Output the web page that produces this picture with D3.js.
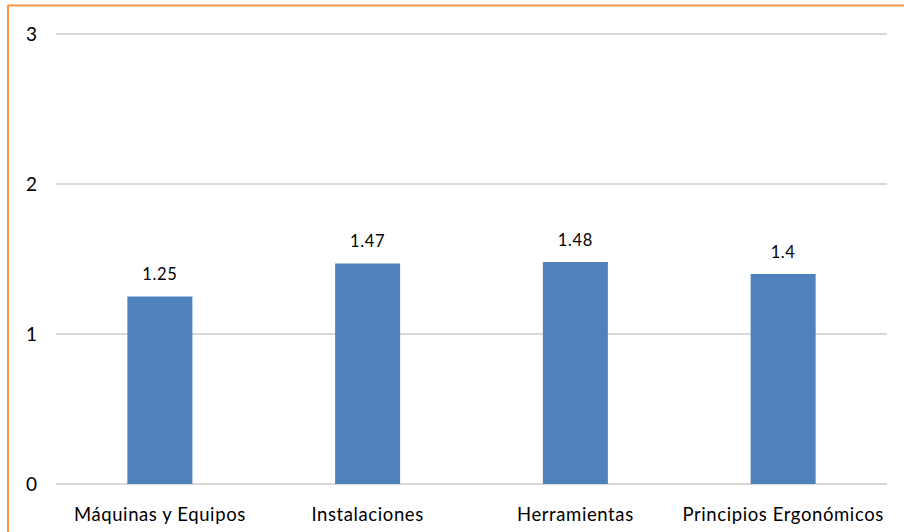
<!DOCTYPE html>
<html>
<head>
<meta charset="utf-8">
<script src="https://cdn.jsdelivr.net/npm/d3@7"></script>
<style>
  html, body { margin: 0; padding: 0; background: #fff; }
  svg { display: block; }
</style>
</head>
<body>
<svg id="chart" width="904" height="532"></svg>
<script>
const categories = ["Máquinas y Equipos", "Instalaciones", "Herramientas", "Principios Ergonómicos"];
const values = [1.25, 1.47, 1.48, 1.4];
const yTicks = [0, 1, 2, 3];

const svg = d3.select("#chart");
const W = 904, H = 532;
const margin = { left: 56, right: 17, top: 34, bottom: 48 };
const fontFamily = "Lato, 'Open Sans', sans-serif";

// outer frame (left and top edges visible)
svg.append("line").attr("x1", 8).attr("x2", W).attr("y1", 5.5).attr("y2", 5.5)
  .attr("stroke", "#f79646").attr("stroke-width", 2);
svg.append("line").attr("x1", 8).attr("x2", 8).attr("y1", 5).attr("y2", H)
  .attr("stroke", "#f79646").attr("stroke-width", 2);

const x = d3.scaleBand()
  .domain(categories)
  .range([margin.left, W - margin.right])
  .paddingInner(0.687)
  .paddingOuter(0.3435);

const y = d3.scaleLinear()
  .domain([0, 3])
  .range([H - margin.bottom, margin.top]);

// horizontal gridlines
svg.append("g")
  .selectAll("line")
  .data(yTicks)
  .join("line")
  .attr("x1", margin.left)
  .attr("x2", W - margin.right)
  .attr("y1", d => y(d))
  .attr("y2", d => y(d))
  .attr("stroke", "#d9d9d9")
  .attr("stroke-width", 2);

// y tick labels
svg.append("g")
  .selectAll("text")
  .data(yTicks)
  .join("text")
  .attr("x", 31.5)
  .attr("y", d => y(d))
  .attr("dy", "0.36em")
  .attr("text-anchor", "middle")
  .attr("font-family", fontFamily)
  .attr("font-size", 19)
  .attr("fill", "#000")
  .text(d => d);

// bars
svg.append("g")
  .selectAll("rect")
  .data(values)
  .join("rect")
  .attr("x", (d, i) => x(categories[i]))
  .attr("width", x.bandwidth())
  .attr("y", d => y(d))
  .attr("height", d => y(0) - y(d))
  .attr("fill", "#4f81bd");

// value labels
svg.append("g")
  .selectAll("text")
  .data(values)
  .join("text")
  .attr("x", (d, i) => x(categories[i]) + x.bandwidth() / 2)
  .attr("y", d => y(d) - 16.5)
  .attr("text-anchor", "middle")
  .attr("font-family", fontFamily)
  .attr("font-size", 16.5)
  .attr("letter-spacing", 0.6)
  .attr("fill", "#000")
  .text(d => d);

// category labels
svg.append("g")
  .selectAll("text")
  .data(categories)
  .join("text")
  .attr("x", d => x(d) + x.bandwidth() / 2)
  .attr("y", 521)
  .attr("text-anchor", "middle")
  .attr("font-family", fontFamily)
  .attr("font-size", 18.5)
  .attr("letter-spacing", 0.6)
  .attr("fill", "#000")
  .text(d => d);
</script>
</body>
</html>
